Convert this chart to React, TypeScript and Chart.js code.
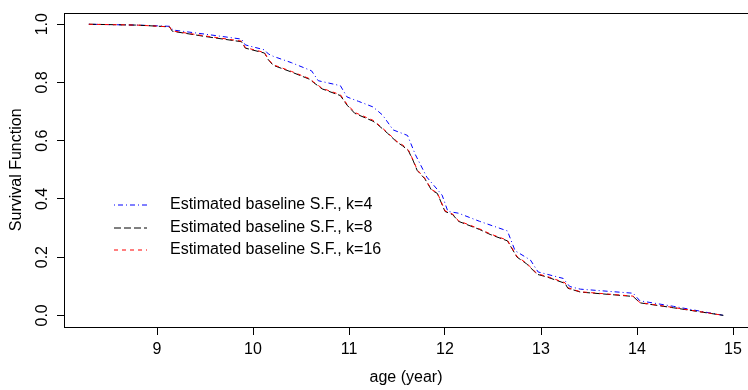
import { useEffect, useRef } from "react";
import { Chart, registerables } from "chart.js";
Chart.register(...registerables);

const ageK4 = [8.29, 8.8, 9.13, 9.17, 9.5, 9.88, 9.92, 10.12, 10.16, 10.21, 10.4, 10.61, 10.68, 10.91, 10.98, 11.1, 11.25, 11.35, 11.46, 11.61, 11.69, 11.81, 11.97, 12.03, 12.14, 12.36, 12.65, 12.73, 12.89, 12.97, 13.23, 13.3, 13.41, 13.96, 14.03, 14.38, 14.9];
const survK4 = [1.0, 0.997, 0.993, 0.98, 0.966, 0.949, 0.929, 0.912, 0.898, 0.89, 0.868, 0.84, 0.806, 0.789, 0.75, 0.735, 0.716, 0.688, 0.637, 0.618, 0.553, 0.475, 0.413, 0.357, 0.351, 0.323, 0.29, 0.222, 0.19, 0.149, 0.127, 0.099, 0.09, 0.076, 0.05, 0.031, 0.0];

const ageK8 = [8.29, 8.8, 9.13, 9.16, 9.5, 9.88, 9.92, 10.12, 10.16, 10.21, 10.4, 10.59, 10.63, 10.72, 10.91, 10.98, 11.06, 11.25, 11.3, 11.4, 11.5, 11.56, 11.62, 11.67, 11.71, 11.79, 11.86, 11.92, 12.0, 12.08, 12.14, 12.36, 12.47, 12.65, 12.75, 12.85, 12.96, 13.06, 13.25, 13.28, 13.41, 13.96, 14.03, 14.38, 14.9];
const survK8 = [1.0, 0.997, 0.991, 0.976, 0.958, 0.94, 0.918, 0.901, 0.878, 0.859, 0.836, 0.811, 0.8, 0.778, 0.755, 0.722, 0.694, 0.667, 0.655, 0.626, 0.595, 0.582, 0.565, 0.53, 0.498, 0.469, 0.43, 0.419, 0.357, 0.346, 0.323, 0.295, 0.278, 0.256, 0.2, 0.177, 0.141, 0.132, 0.11, 0.093, 0.08, 0.065, 0.043, 0.026, 0.0];

const ageK16 = [8.29, 8.8, 9.13, 9.16, 9.5, 9.88, 9.92, 10.12, 10.16, 10.21, 10.4, 10.59, 10.63, 10.72, 10.91, 10.98, 11.06, 11.25, 11.3, 11.4, 11.5, 11.56, 11.62, 11.67, 11.71, 11.79, 11.86, 11.92, 12.0, 12.08, 12.14, 12.36, 12.47, 12.65, 12.75, 12.85, 12.96, 13.06, 13.25, 13.28, 13.41, 13.96, 14.03, 14.38, 14.9];
const survK16 = [1.0, 0.997, 0.991, 0.977, 0.96, 0.942, 0.92, 0.903, 0.879, 0.861, 0.838, 0.813, 0.802, 0.78, 0.758, 0.725, 0.697, 0.67, 0.657, 0.628, 0.597, 0.585, 0.567, 0.532, 0.5, 0.471, 0.432, 0.421, 0.359, 0.348, 0.325, 0.297, 0.28, 0.258, 0.202, 0.179, 0.143, 0.134, 0.112, 0.095, 0.081, 0.066, 0.044, 0.027, 0.0];

const xTicks = [9, 10, 11, 12, 13, 14, 15];
const yTicks = [0, 0.2, 0.4, 0.6, 0.8, 1.0];
const seriesLabels = [
  "Estimated baseline S.F., k=4",
  "Estimated baseline S.F., k=8",
  "Estimated baseline S.F., k=16",
];
const xTitle = "age (year)";
const yTitle = "Survival Function";

const FONT = "'Liberation Sans', Arial, Helvetica, sans-serif";

export default function App() {
  const ref = useRef<HTMLCanvasElement>(null);
  useEffect(() => {
    const toPts = (xs: number[], ys: number[]) => xs.map((x, i) => ({ x, y: ys[i] }));

    const boxPlugin = {
      id: "box",
      afterDraw(chart: any) {
        const { ctx, chartArea } = chart;
        ctx.save();
        ctx.strokeStyle = "#000";
        ctx.lineWidth = 1;
        ctx.setLineDash([]);
        const l = Math.round(chartArea.left) + 0.5;
        const t = Math.round(chartArea.top) + 0.5;
        const r = Math.round(chartArea.right) + 0.5;
        const b = Math.round(chartArea.bottom) + 0.5;
        ctx.strokeRect(l, t, r - l, b - t);
        ctx.restore();
      },
    };

    const legendPlugin = {
      id: "customLegend",
      afterDraw(chart: any) {
        const { ctx } = chart;
        const order = [0, 1, 2];
        const rowsY = [205, 227.5, 250];
        ctx.save();
        order.forEach((di, row) => {
          const ds = chart.data.datasets[di];
          const y = Math.round(rowsY[row]);
          ctx.strokeStyle = ds.borderColor;
          ctx.lineWidth = 1;
          ctx.setLineDash(ds.borderDash || []);
          ctx.beginPath();
          ctx.moveTo(114, y);
          ctx.lineTo(147, y);
          ctx.stroke();
          ctx.setLineDash([]);
          ctx.fillStyle = "#000";
          ctx.font = `16px ${FONT}`;
          ctx.textAlign = "left";
          ctx.textBaseline = "middle";
          ctx.fillText(ds.label, 170, rowsY[row]);
        });
        ctx.restore();
      },
    };

    const chart = new Chart(ref.current as HTMLCanvasElement, {
      type: "line",
      data: {
        datasets: [
          {
            label: seriesLabels[0],
            data: toPts(ageK4, survK4),
            borderColor: "#0000ff",
            borderWidth: 1,
            borderDash: [1, 3, 5, 3],
            pointRadius: 0,
            tension: 0,
            fill: false,
            order: 3,
          },
          {
            label: seriesLabels[1],
            data: toPts(ageK8, survK8),
            borderColor: "#000000",
            borderWidth: 1,
            borderDash: [7, 3],
            pointRadius: 0,
            tension: 0,
            fill: false,
            order: 2,
          },
          {
            label: seriesLabels[2],
            data: toPts(ageK16, survK16),
            borderColor: "#ff0000",
            borderWidth: 1,
            borderDash: [4, 4],
            pointRadius: 0,
            tension: 0,
            fill: false,
            order: 1,
          },
        ],
      },
      options: {
        animation: false,
        responsive: false,
        events: [],
        layout: { padding: { top: 7, left: 0, right: 0, bottom: 0 } },
        plugins: { legend: { display: false }, tooltip: { enabled: false } },
        scales: {
          x: {
            type: "linear",
            min: 8.03125,
            max: 15.15625,
            afterBuildTicks: (s: any) => {
              s.ticks = xTicks.map((v) => ({ value: v }));
            },
            afterFit: (s: any) => {
              s.height = 63;
            },
            ticks: {
              font: { family: FONT, size: 16 },
              color: "#000",
              padding: 5,
              autoSkip: false,
              maxRotation: 0,
              callback: (v: any) => String(v),
            },
            grid: { drawOnChartArea: false, tickLength: 8, color: "#000", lineWidth: 1 },
            border: { display: false },
            title: {
              display: true,
              text: xTitle,
              font: { family: FONT, size: 16 },
              color: "#000",
              padding: { top: 0, bottom: 3 },
            },
          },
          y: {
            type: "linear",
            min: -0.04,
            max: 1.04,
            afterBuildTicks: (s: any) => {
              s.ticks = yTicks.map((v) => ({ value: v }));
            },
            afterFit: (s: any) => {
              s.width = 64;
            },
            ticks: {
              font: { family: FONT, size: 16 },
              color: "#000",
              padding: 3,
              minRotation: 90,
              maxRotation: 90,
              crossAlign: "center",
              autoSkip: false,
              callback: (v: any) => Number(v).toFixed(1),
            },
            grid: { drawOnChartArea: false, tickLength: 7, color: "#000", lineWidth: 1 },
            border: { display: false },
            title: {
              display: true,
              text: yTitle,
              font: { family: FONT, size: 16 },
              color: "#000",
              padding: { top: 7, bottom: 0 },
            },
          },
        },
      },
      plugins: [boxPlugin, legendPlugin],
    } as any);
    return () => chart.destroy();
  }, []);
  return (
    <div
      style={{
        position: "absolute",
        left: 0,
        top: 0,
        width: 748,
        height: 390,
        overflow: "hidden",
        background: "#fff",
      }}
    >
      <canvas ref={ref} width={748} height={390} style={{ display: "block" }} />
    </div>
  );
}
